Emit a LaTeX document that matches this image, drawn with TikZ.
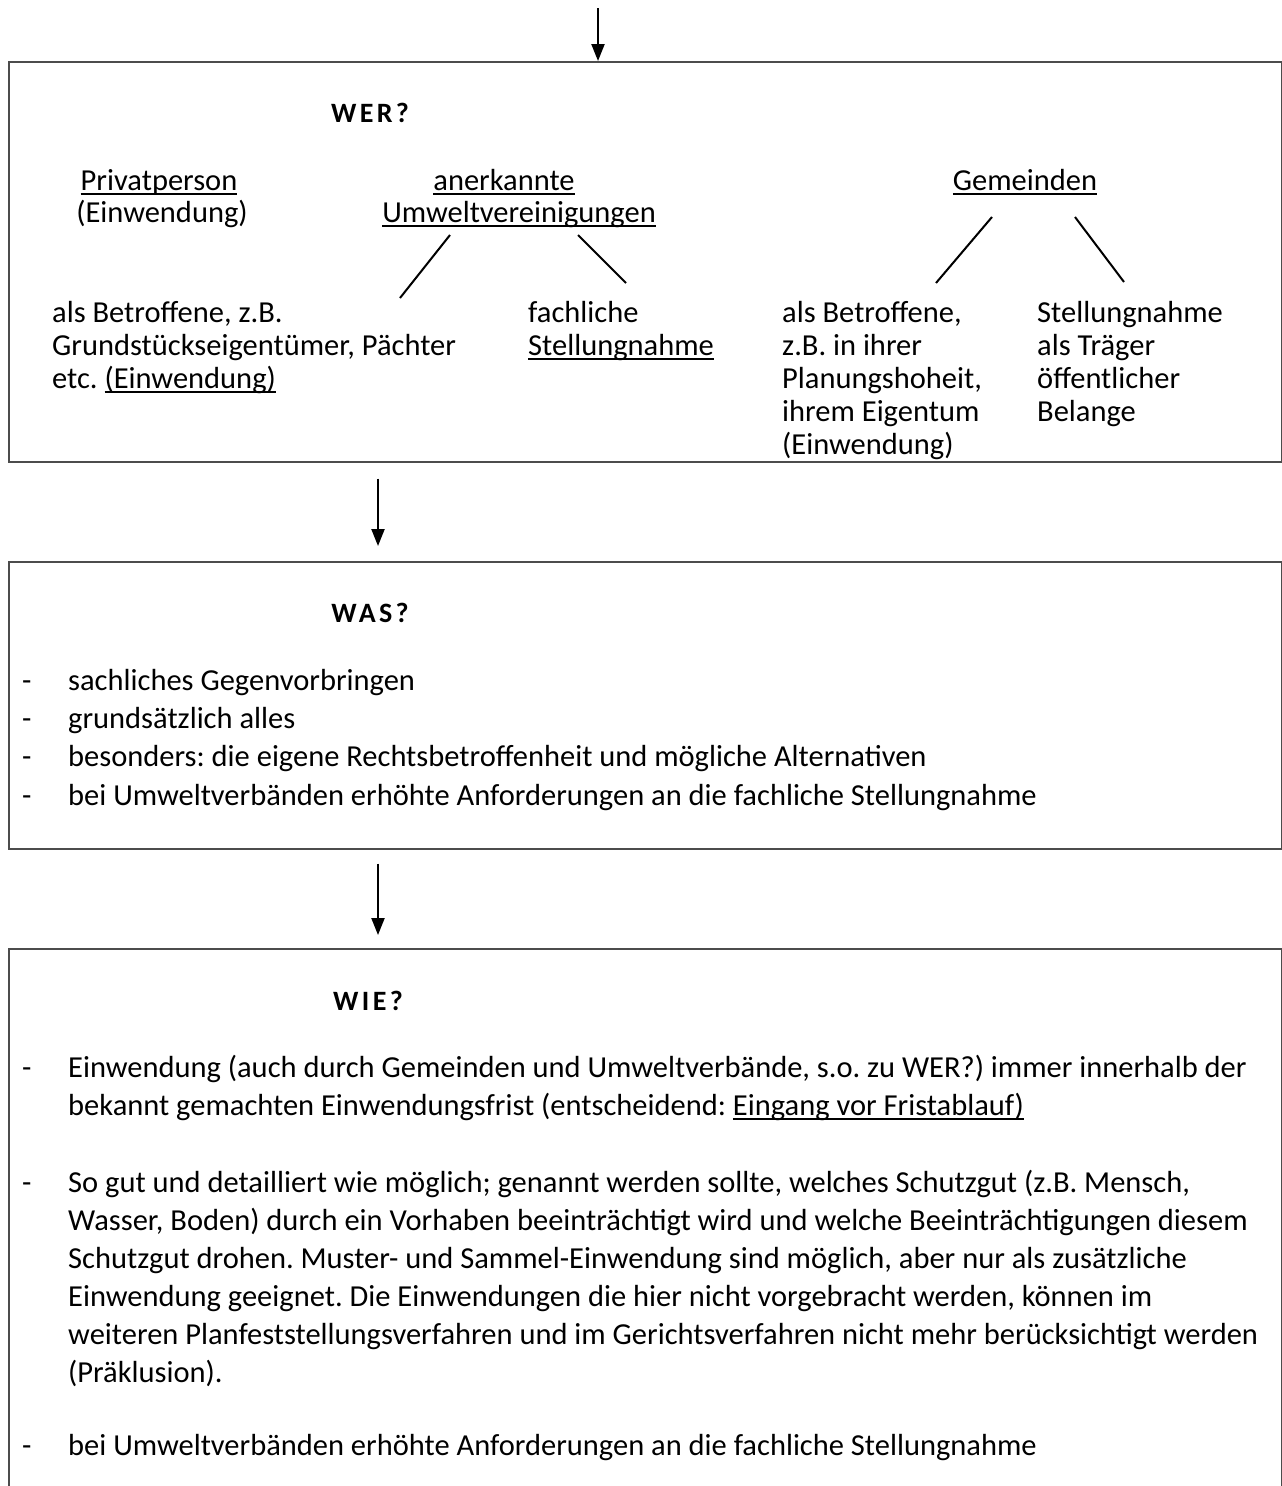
\documentclass[tikz,border=0pt]{standalone}
\usepackage{fontspec}
\setmainfont{Carlito}
\frenchspacing
\newcommand\myul[1]{\setbox0\hbox{#1}\rlap{\rule[-5pt]{\wd0}{2.2pt}}\box0}
\usetikzlibrary{arrows.meta}
\begin{document}
\begin{tikzpicture}[x=1pt,y=-1pt,
  box/.style={draw=black!70, line width=1.5pt, minimum width=1273pt, anchor=north west, inner sep=0pt},
  flow/.style={-{Triangle[length=17pt,width=13pt]}, line width=2.2pt},
  branch/.style={line width=2pt},
  txt/.style={anchor=base west, inner sep=0pt, font=\fontsize{30.5}{36}\selectfont},
  ctxt/.style={txt, anchor=base},
  head/.style={anchor=base, inner sep=0pt, font=\fontsize{28}{34}\selectfont\bfseries\addfontfeature{LetterSpace=12}}]
\useasboundingbox (0,0) rectangle (1282,1486);
\fill[white] (0,0) rectangle (1282,1486);
% boxes
\node[box, minimum height=400pt] (wer) at (8,61) {};
\node[box, minimum height=287pt] (was) at (8,561) {};
\node[box, minimum height=545pt] (wie) at (8,948) {};
% arrows
\coordinate (s1) at (598,8);
\coordinate (s2) at (378,0);
\draw[flow] (s1) -- (s1 |- wer.north);
\draw[flow, shorten <=16pt, shorten >=15pt] (wer.south -| s2) -- (was.north -| s2);
\draw[flow, shorten <=14pt, shorten >=13pt] (was.south -| s2) -- (wie.north -| s2);
% WER
\node[head] (h1) at (370,122) {WER?};
\node[ctxt] (pp) at (159,190) {\myul{Privatperson}};
\node[ctxt] (pp2) at (162,222) {(Einwendung)};
\node[ctxt] (uv1) at (504,190) {\myul{anerkannte}};
\node[ctxt] (uv2) at (519,222) {\myul{Umweltvereinigungen}};
\node[ctxt] (gm) at (1025,190) {\myul{Gemeinden}};
\coordinate (l1a) at (450,235); \coordinate (l1b) at (400,298);
\coordinate (l2a) at (578,235); \coordinate (l2b) at (626,283);
\coordinate (l3a) at (992,217); \coordinate (l3b) at (936,283);
\coordinate (l4a) at (1075,217); \coordinate (l4b) at (1124,282);
\draw[branch] (l1a) -- (l1b);
\draw[branch] (l2a) -- (l2b);
\draw[branch] (l3a) -- (l3b);
\draw[branch] (l4a) -- (l4b);
\node[txt] (a1) at (52,322) {als Betroffene, z.B.};
\node[txt] (a2) at (52,355) {Grundstückseigentümer, Pächter};
\node[txt] (a3) at (52,388) {etc. \myul{(Einwendung)}};
\node[txt] (b1) at (528,322) {fachliche};
\node[txt] (b2) at (528,355) {\myul{Stellungnahme}};
\node[txt] (c1) at (782,322) {als Betroffene,};
\node[txt] (c2) at (782,355) {z.B. in ihrer};
\node[txt] (c3) at (782,388) {Planungshoheit,};
\node[txt] (c4) at (782,421) {ihrem Eigentum};
\node[txt] (c5) at (782,454) {(Einwendung)};
\node[txt] (d1) at (1037,322) {Stellungnahme};
\node[txt] (d2) at (1037,355) {als Träger};
\node[txt] (d3) at (1037,388) {öffentlicher};
\node[txt] (d4) at (1037,421) {Belange};
% WAS
\node[head] (h2) at (370,622) {WAS?};
\foreach \y/\t [count=\i] in {690/sachliches Gegenvorbringen, 728/grundsätzlich alles, 766/besonders: die eigene Rechtsbetroffenheit und mögliche Alternativen, 805/bei Umweltverbänden erhöhte Anforderungen an die fachliche Stellungnahme}{
  \node[txt] (wd\i) at (22,\y) {-};
  \node[txt] (wt\i) at (68,\y) {\t};
}
% WIE
\node[head] (h3) at (368,1010) {WIE?};
\node[txt] (xd1) at (22,1077) {-};
\node[txt] (x1) at (68,1077) {Einwendung (auch durch Gemeinden und Umweltverbände, s.o. zu WER?) immer innerhalb der};
\node[txt] (x2) at (68,1115) {bekannt gemachten Einwendungsfrist (entscheidend: \myul{Eingang vor Fristablauf)}};
\node[txt] (xd2) at (22,1192) {-};
\node[txt] (y1) at (68,1192) {So gut und detailliert wie möglich; genannt werden sollte, welches Schutzgut (z.B. Mensch,};
\node[txt] (y2) at (68,1230) {Wasser, Boden) durch ein Vorhaben beeinträchtigt wird und welche Beeinträchtigungen diesem};
\node[txt] (y3) at (68,1268) {Schutzgut drohen. Muster- und Sammel-Einwendung sind möglich, aber nur als zusätzliche};
\node[txt] (y4) at (68,1306) {Einwendung geeignet. Die Einwendungen die hier nicht vorgebracht werden, können im};
\node[txt] (y5) at (68,1344) {weiteren Planfeststellungsverfahren und im Gerichtsverfahren nicht mehr berücksichtigt werden};
\node[txt] (y6) at (68,1382) {(Präklusion).};
\node[txt] (xd3) at (22,1455) {-};
\node[txt] (z1) at (68,1455) {bei Umweltverbänden erhöhte Anforderungen an die fachliche Stellungnahme};
\end{tikzpicture}
\end{document}
